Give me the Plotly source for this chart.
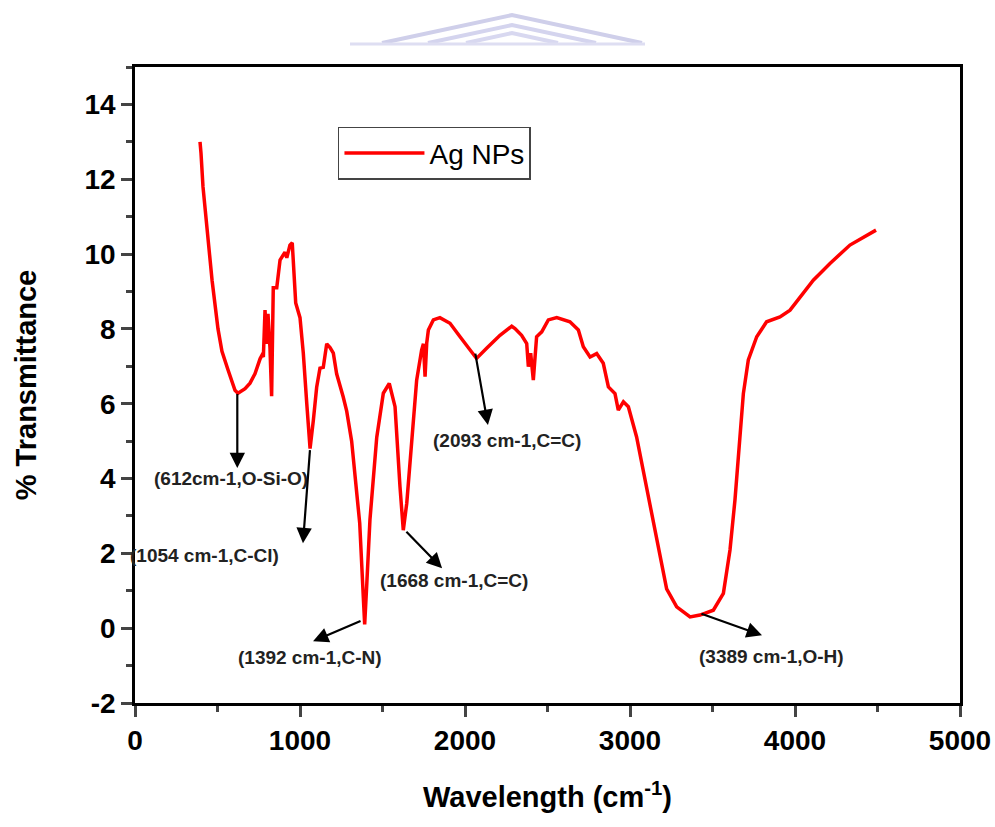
import plotly.graph_objects as go

wavenumber = [394, 400, 412, 436, 467, 503, 527, 564, 606, 624, 645, 667, 697, 727, 758, 770, 778,
              788, 798, 806, 818, 828, 838, 859, 879, 909, 920, 939, 953, 959, 974, 1000, 1020,
              1041, 1061, 1081, 1101, 1121, 1141, 1162, 1182, 1202, 1222, 1262, 1283, 1313, 1343,
              1362, 1384, 1392, 1405, 1424, 1465, 1505, 1541, 1576, 1606, 1626, 1647, 1677, 1707,
              1737, 1748, 1758, 1768, 1778, 1808, 1848, 1909, 1970, 2040, 2070, 2131, 2212, 2283,
              2303, 2343, 2374, 2384, 2398, 2414, 2424, 2434, 2465, 2485, 2505, 2556, 2636, 2687,
              2717, 2758, 2798, 2838, 2869, 2909, 2929, 2960, 2990, 3040, 3101, 3162, 3222, 3283,
              3364, 3424, 3505, 3566, 3606, 3636, 3667, 3687, 3717, 3768, 3828, 3909, 3970, 4050,
              4111, 4212, 4333, 4491]
transmittance = [13.0, 12.7, 11.8, 10.6, 9.3, 8.0, 7.4, 6.9, 6.36, 6.28, 6.35, 6.4, 6.55, 6.8, 7.2, 7.3, 7.25,
                 8.5, 7.6, 8.4, 7.5, 6.2, 9.1, 9.1, 9.84, 10.05, 9.9, 10.24, 10.3, 9.84, 8.69, 8.3, 7.35,
                 6.0, 4.8, 5.56, 6.44, 6.95, 6.97, 7.6, 7.5, 7.35, 6.8, 6.18, 5.8, 5.0, 3.77,
                 2.8, 0.8, 0.1, 1.2, 2.9, 5.1, 6.28, 6.54, 5.92, 3.78, 2.62, 3.34, 5.1, 6.63,
                 7.43, 7.6, 6.72, 7.62, 7.97, 8.24, 8.3, 8.15, 7.79, 7.39, 7.21, 7.48, 7.83, 8.07,
                 8.01, 7.83, 7.61, 6.99, 7.35, 6.63, 7.17, 7.79, 7.92, 8.06, 8.24, 8.3, 8.19, 7.97,
                 7.52, 7.25, 7.34, 7.08, 6.45, 6.27, 5.83, 6.05, 5.92, 5.11, 3.78, 2.44, 1.05, 0.57,
                 0.3, 0.35, 0.48, 0.93, 2.09, 3.42, 5.2, 6.27, 7.17, 7.79, 8.19, 8.32, 8.5, 8.95,
                 9.3, 9.75, 10.24, 10.64]

x_ticks = [0, 1000, 2000, 3000, 4000, 5000]
y_ticks = [-2, 0, 2, 4, 6, 8, 10, 12, 14]
y_ticktext = ["-2", "0", "2", "4", "6", "8", "10", "12", "14"]

# peak annotations: label text, label position, arrow tail (on curve), arrow head
peak_labels = ["(612cm-1,O-Si-O)", "(1054 cm-1,C-Cl)", "(1392 cm-1,C-N)",
               "(1668 cm-1,C=C)", "(2093 cm-1,C=C)", "(3389 cm-1,O-H)"]
label_x = [582, 424, 1061, 1933, 2255, 3855]
label_y = [4.01, 1.93, -0.78, 1.28, 5.03, -0.75]
tail_x = [620, 1061, 1376, 1636, 2061, 3424]
tail_y = [6.3, 4.8, 0.21, 2.62, 7.38, 0.4]
head_x = [620, 1018, 1079, 1861, 2139, 3800]
head_y = [4.28, 2.27, -0.35, 1.6, 5.43, -0.19]

fig = go.Figure()
fig.add_trace(go.Scatter(x=wavenumber, y=transmittance, mode="lines", name="Ag NPs",
                         line=dict(color="#ff0000", width=3.5)))

FONT = "Liberation Sans, Arial"
bold = dict(family=FONT, weight="bold", color="black")
annotations = []
for t, lx, ly, tx, ty, hx, hy in zip(peak_labels, label_x, label_y, tail_x, tail_y, head_x, head_y):
    annotations.append(dict(x=hx, y=hy, ax=tx, ay=ty, xref="x", yref="y", axref="x", ayref="y",
                            text="", showarrow=True, arrowhead=2, arrowsize=1.4, arrowwidth=2.2,
                            arrowcolor="black"))
    annotations.append(dict(x=lx, y=ly, xref="x", yref="y", text=t, showarrow=False,
                            font=dict(family=FONT, weight="bold", size=19, color="#222222")))


# faint watermark chevrons at the top (pixel positions -> paper coordinates)
def px(xp):
    return (xp - 135) / 825


def py(yp):
    return (703 - yp) / 636


shapes = []
for apex, half, col in [(15, 130, "#cfcfea"), (25, 84, "#d4d4ee"), (33, 46, "#d8d8f0")]:
    shapes.append(dict(type="path", xref="paper", yref="paper",
                       path=f"M {px(512 - half)},{py(43)} L {px(512)},{py(apex)} L {px(512 + half)},{py(43)}",
                       line=dict(color=col, width=4)))
shapes.append(dict(type="line", xref="paper", yref="paper", x0=px(350), x1=px(645), y0=py(44), y1=py(44),
                   line=dict(color="#dedef2", width=3)))

fig.update_layout(
    width=995, height=827,
    margin=dict(l=135, r=35, t=67, b=124),
    plot_bgcolor="white", paper_bgcolor="white",
    showlegend=True,
    legend=dict(x=0.246, y=0.906, xanchor="left", yanchor="top", itemwidth=80,
                bordercolor="#444444", borderwidth=1.5, bgcolor="white",
                font=dict(family=FONT, size=28, color="black")),
    annotations=annotations,
    shapes=shapes,
)
fig.update_xaxes(range=[0, 5000], tickvals=x_ticks, ticks="outside", ticklen=11, tickwidth=2.5,
                 showline=True, linewidth=2.5, linecolor="black", mirror=True, showgrid=False,
                 zeroline=False, automargin=False, tickfont=dict(size=28, **bold),
                 minor=dict(dtick=500, ticks="outside", ticklen=6, tickwidth=2.5, showgrid=False),
                 title=dict(text="Wavelength (cm<sup>-1</sup>)", font=dict(size=29, **bold), standoff=32))
fig.update_yaxes(range=[-2, 15], tickvals=y_ticks, ticktext=y_ticktext, ticks="outside",
                 ticklen=11, tickwidth=2.5, showline=True, linewidth=2.5, linecolor="black", mirror=True,
                 showgrid=False, zeroline=False, automargin=False, tickfont=dict(size=28, **bold),
                 minor=dict(dtick=1, ticks="outside", ticklen=6, tickwidth=2.5, showgrid=False),
                 title=dict(text="% Transmittance", font=dict(size=29, **bold), standoff=40))

fig.write_html("out.html")
